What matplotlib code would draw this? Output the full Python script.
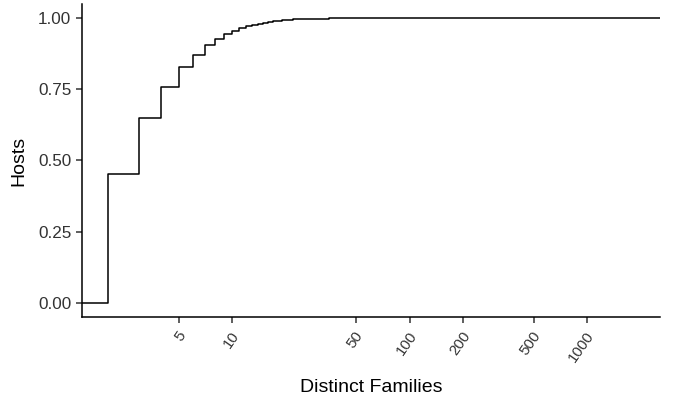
import numpy as np
import matplotlib
matplotlib.use("Agg")
import matplotlib.pyplot as plt
from matplotlib.transforms import ScaledTranslation

plt.rcParams['font.family'] = ['Liberation Sans', 'DejaVu Sans']

# cumulative share of hosts by number of distinct families
families = [2, 3, 4, 5, 6, 7, 8, 9, 10, 11, 12, 13, 14, 15, 16, 17, 18, 19, 20,
            21, 22, 23, 24, 25, 27, 30, 35, 45, 70, 150, 400, 1824]
hosts = [0.454, 0.650, 0.760, 0.827, 0.872, 0.905, 0.926, 0.944, 0.954, 0.964,
         0.971, 0.976, 0.980, 0.984, 0.987, 0.989, 0.991, 0.993, 0.994,
         0.995, 0.996, 0.9967, 0.9973, 0.9978, 0.9984, 0.999, 0.9994, 0.9997,
         0.9998, 0.9999, 0.99995, 1.0]

xticks = [5, 10, 50, 100, 200, 500, 1000]

fig = plt.figure(figsize=(6.75, 4.01), dpi=100)
ax = fig.add_axes([81.7/675, 84/401, (660-81.7)/675, (317-4)/401])

ax.set_xscale('log')
lo, hi = np.log10(families[0]), np.log10(families[-1])
pad = 0.05*(hi-lo)
xlim = (10**(lo-pad), 10**(hi+pad))
ax.set_xlim(*xlim)
ax.set_ylim(-0.05, 1.05)

# ecdf with padding to the panel edges
xs = [xlim[0]] + families + [xlim[1]]
ys = [0.0] + hosts + [1.0]
ax.step(xs, ys, where='post', color='black', lw=1.1)

ax.set_xticks(xticks)
ax.set_xticklabels([str(t) for t in xticks], rotation=55, ha='right', va='center',
                   rotation_mode='anchor', fontsize=10.9)
ax.xaxis.set_minor_locator(matplotlib.ticker.NullLocator())
ax.set_yticks([0, 0.25, 0.5, 0.75, 1.0])
ax.set_yticklabels(['0.00', '0.25', '0.50', '0.75', '1.00'])

for s in ['top', 'right']:
    ax.spines[s].set_visible(False)
for s in ['left', 'bottom']:
    ax.spines[s].set_linewidth(1.1)
    ax.spines[s].set_color('black')
ax.tick_params(axis='both', which='major', length=4, width=1.1, color='#333333',
               labelcolor='#333333')
ax.tick_params(axis='y', labelsize=12.3, pad=3.5)
ax.tick_params(axis='x', pad=7.3)

shift = ScaledTranslation(4/100, 0, fig.dpi_scale_trans)
for lab in ax.get_xticklabels():
    lab.set_transform(lab.get_transform() + shift)

ax.set_xlabel("Distinct Families", fontsize=14, va='baseline')
ax.xaxis.set_label_coords(0.5, (9 - 84)/313)
ax.set_ylabel("Hosts", fontsize=14, labelpad=8)

fig.savefig("out.png", dpi=100)
